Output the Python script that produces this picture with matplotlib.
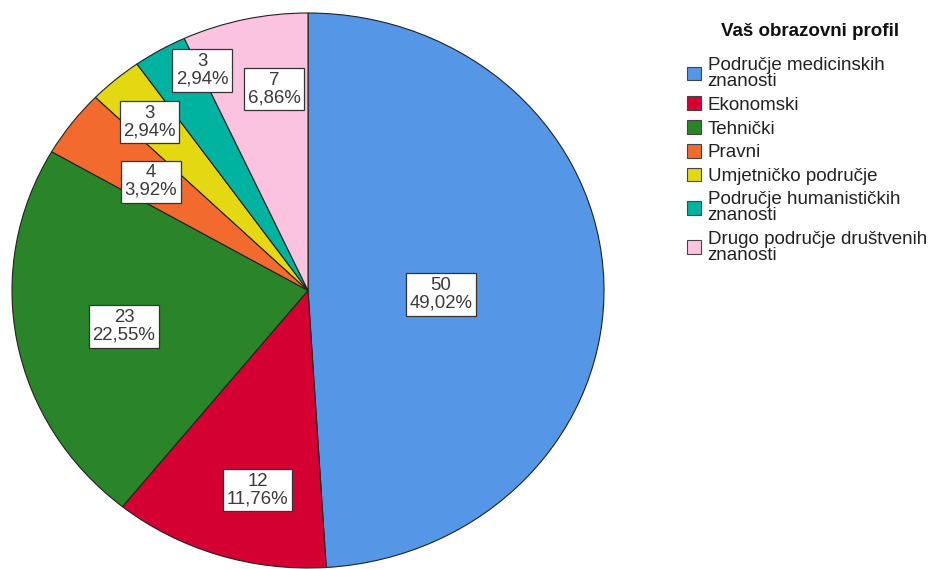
import numpy as np
import matplotlib
matplotlib.use('Agg')
import matplotlib.pyplot as plt
from matplotlib.patches import Patch

plt.rcParams['font.family'] = ['Liberation Sans', 'DejaVu Sans']

# data
categories = ['Područje medicinskih\nznanosti', 'Ekonomski', 'Tehnički', 'Pravni',
              'Umjetničko područje', 'Područje humanističkih\nznanosti',
              'Drugo područje društvenih\nznanosti']
counts = [50, 12, 23, 4, 3, 3, 7]
pct_labels = ['49,02%', '11,76%', '22,55%', '3,92%', '2,94%', '2,94%', '6,86%']

colors = ['#5596E6', '#D50032', '#2A842A', '#F26A2E', '#E4D813', '#00B2A0', '#FCC3E1']
# radial position / angular nudge of each label box
label_r = [0.45, 0.74, 0.635, 0.66, 0.81, 0.87, 0.735]
label_dang = [-3.6, 4.4, 1.2, 0.6, 0.8, -5.7, -3.4]

fig = plt.figure(figsize=(9.3, 5.69), dpi=100)
ax = fig.add_axes([12 / 930, 1 / 569, 592 / 930, 555 / 569])

wedges, _ = ax.pie(counts, colors=colors, startangle=90, counterclock=False,
                   radius=1, wedgeprops=dict(edgecolor='#222222', linewidth=0.8))
ax.set_aspect('auto')
ax.set_xlim(-1, 1)
ax.set_ylim(-1, 1)

for w, n, p, r, da in zip(wedges, counts, pct_labels, label_r, label_dang):
    ang = np.deg2rad((w.theta1 + w.theta2) / 2 + da)
    ax.text(r * np.cos(ang), r * np.sin(ang), f'{n}\n{p}', ha='center', va='center',
            fontsize=13.4, color='#3a3a3a', linespacing=1.05,
            bbox=dict(boxstyle='square,pad=0.2', facecolor='white',
                      edgecolor='#333333', linewidth=0.9))

fig.text(810 / 930, 1 - 31 / 569, 'Vaš obrazovni profil', ha='center', va='center',
         fontsize=13.5, fontweight='bold', color='#111111')

handles = [Patch(facecolor=c, edgecolor='#444444', linewidth=0.8) for c in colors]
leg = fig.legend(handles, categories, loc='upper left',
                 bbox_to_anchor=(687 / 930, 1 - 57 / 569),
                 frameon=False, fontsize=13.5, handlelength=0.75, handleheight=0.75,
                 handletextpad=0.35, labelspacing=0.34, borderpad=0, borderaxespad=0)
for t in leg.get_texts():
    t.set_color('#222222')
    t.set_linespacing(0.92)

fig.savefig('out.png', dpi=100)
